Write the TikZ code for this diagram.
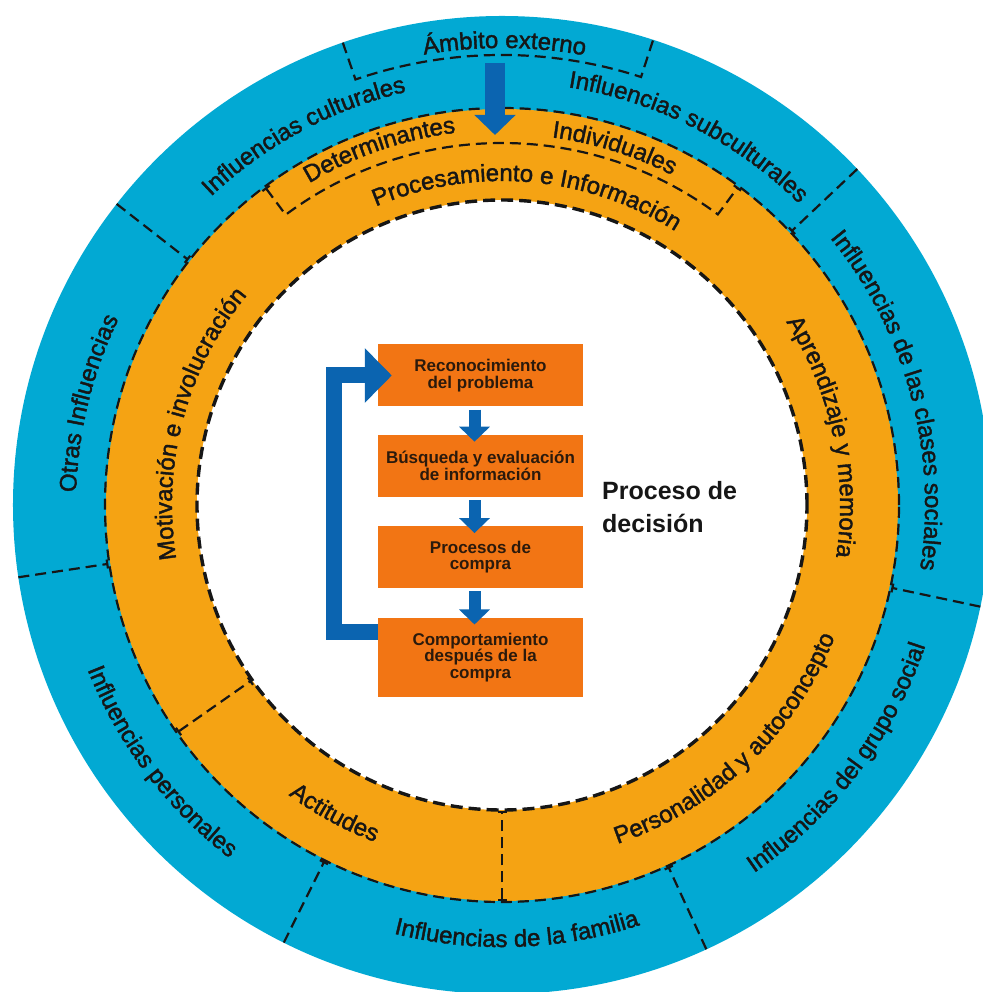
\documentclass[tikz,border=0pt]{standalone}
\usepackage{fontspec}
\setmainfont{Liberation Sans}
\newfontfamily\ringfamily[FakeBold=1.6]{Liberation Sans}
\usetikzlibrary{arrows.meta,positioning,decorations.text}
\definecolor{ringblue}{HTML}{02A9D3}
\definecolor{ringorange}{HTML}{F5A313}
\definecolor{boxorange}{HTML}{F27514}
\definecolor{arrowblue}{HTML}{0B64B0}
\definecolor{inktext}{HTML}{161616}
\definecolor{boxtext}{HTML}{2B1A0C}
\newcommand{\ringfont}{\ringfamily\fontsize{24}{24}\selectfont}

\begin{document}
\begin{tikzpicture}[x=1pt,y=1pt,
  divider/.style={inktext,line width=2.2pt,dash pattern=on 11pt off 6pt},
  stepbox/.style={fill=boxorange,minimum width=205pt,minimum height=62pt,inner sep=0pt,
    align=center,text=boxtext,font=\bfseries\fontsize{17}{16.5}\selectfont},
  flowarrow/.style={arrowblue,line width=12pt,-{Triangle[width=30pt,length=15pt]},shorten >=-7pt},
  looparrow/.style={arrowblue,line width=16pt,line join=miter,-{Triangle[width=53pt,length=27pt]},shorten >=-14pt}]
  \useasboundingbox (-502pt,-487pt) rectangle (480pt,505pt);

  % rings
  \fill[ringblue] (0,0) circle[radius=489pt];
  \fill[ringorange] (0,0) circle[radius=396pt];
  \fill[white] (0,0) circle[radius=305pt];
  \draw[divider] (0,0) circle[radius=397pt];
  \draw[inktext,line width=3.4pt,dash pattern=on 12pt off 6pt] (0,0) circle[radius=305pt];

  % sector lines, outer ring
  \foreach \a in {43.4,142,188.5,243.5,294.7,348} {
    \draw[divider,-{Bar[width=9pt]}] (\a:489pt) -- (\a:398pt);
  }
  % sector lines, inner ring
  \foreach \a in {215,270} {
    \draw[divider,{Bar[width=9pt]}-{Bar[width=9pt]}] (\a:396pt) -- (\a:306pt);
  }
  % boxes round the top labels
  \draw[divider] (109:489pt) -- (109:450pt) arc[start angle=109,end angle=72,radius=450pt] -- (72:489pt);
  \draw[divider,{Bar[width=9pt]}-{Bar[width=9pt]}] (126.7:396pt) -- (126.7:362pt)
    arc[start angle=126.7,end angle=53.4,radius=362pt] -- (53.4:396pt);

  % labels, read clockwise
  \foreach \ang/\rad/\txt in {89.7/457/Ámbito externo,
      118.2/424/Influencias culturales,
      63.2/423/Influencias subculturales,
      15.2/423/Influencias de las clases sociales,
      166.2/426/Otras Influencias,
      109/375/Determinantes,
      72.5/371/Individuales,
      85.3/324/Procesamiento e Información,
      165/330/Motivación e involucración,
      12/338/Aprendizaje y memoria} {
    \path[decorate,decoration={text along path,text align=center,text color=inktext,
        text/.expanded={|\noexpand\ringfont|\txt}}]
      ({\ang+60}:\rad pt) arc[start angle={\ang+60},end angle={\ang-60},radius=\rad pt];
  }
  % labels, read counterclockwise
  \foreach \ang/\rad/\txt in {-37/446/Influencias del grupo social,
      272/442/Influencias de la familia,
      217/446/Influencias personales,
      -46.4/358/Personalidad y autoconcepto,
      241.5/360/Actitudes} {
    \path[decorate,decoration={text along path,text align=center,text color=inktext,
        text/.expanded={|\noexpand\ringfont|\txt}}]
      ({\ang-60}:\rad pt) arc[start angle={\ang-60},end angle={\ang+60},radius=\rad pt];
  }

  % arrow from the outer ring
  \coordinate (ambtop) at (-7pt,442pt);
  \coordinate (ambtip) at (-7pt,370pt);
  \draw[arrowblue,line width=20pt,-{Triangle[width=40pt,length=20pt]}] (ambtop) -- (ambtip);

  % decision steps
  \node[stepbox] (recon) at (-21.5pt,129.5pt) {Reconocimiento\\del problema};
  \node[stepbox,below=28pt of recon] (busq) {Búsqueda y evaluación\\de información};
  \node[stepbox,below=29pt of busq] (procs) {Procesos de\\compra};
  \node[stepbox,below=29pt of procs,minimum height=79pt] (postc) {Comportamiento\\después de la\\compra};

  \draw[flowarrow] ([xshift=-6pt,yshift=-3pt]recon.south) -- ([xshift=-6pt]busq.north);
  \draw[flowarrow] ([xshift=-6pt,yshift=-3pt]busq.south) -- ([xshift=-6pt]procs.north);
  \draw[flowarrow] ([xshift=-6pt,yshift=-3pt]procs.south) -- ([xshift=-6pt]postc.north);
  \draw[looparrow] ([yshift=25.5pt]postc.west) -- ++(-44pt,0) |- (recon.west);

  \node[anchor=north west,inner sep=0pt,align=left,text=inktext,
    font=\bfseries\fontsize{25}{33.6}\selectfont] (decis) at (100pt,24pt) {Proceso de\\decisión};
\end{tikzpicture}
\end{document}
